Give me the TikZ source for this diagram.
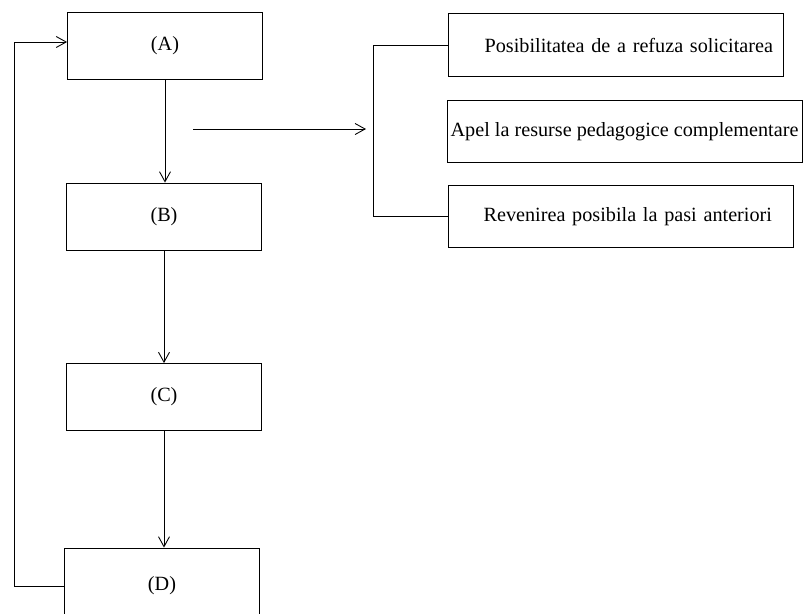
\documentclass[tikz,border=0pt]{standalone}
\usepackage{fontspec}
\setmainfont{Liberation Serif}
\usetikzlibrary{arrows, arrows.meta, positioning, calc}

\tikzset{
    box/.style={draw, line width=0.5pt, minimum width=3.9cm, minimum height=1.34cm, inner sep=0pt},
    optbox/.style={draw, line width=0.5pt, minimum height=1.25cm, inner ysep=0pt},
    line/.style={line width=0.5pt},
    flow/.style={line width=0.5pt, -{Straight Barb[length=2mm, width=2.2mm]}}
}

\begin{document}
\begin{tikzpicture}[x=0.02cm, y=-0.02cm, font=\fontsize{11.5}{13}\selectfont]
    % Frame of the picture
    \useasboundingbox (0,0) rectangle (810,613);
    \clip (0,0) rectangle (810,613);

    % Main steps
    \node[box] (A) at (165,46) {(A)};
    \node[box] (B) at (164,216.5) {(B)};
    \node[box] (C) at (164,397) {(C)};
    \node[box, minimum height=1.52cm] (D) at (162,586) {(D)};

    % Options on the right
    \node[optbox, inner xsep=0.2cm, text width=6.3cm, align=right] (opt1) at (615.5,45) {Posibilitatea de a refuza solicitarea};
    \node[optbox, inner xsep=0pt, minimum width=7.1cm] (opt2) at (624.5,131.5) {Apel la resurse pedagogice complementare};
    \node[optbox, inner xsep=0.42cm, text width=6.06cm, align=right] (opt3) at (620.5,216.5) {Revenirea posibila la pasi anteriori};

    % Flow between steps
    \draw[flow] (A.south) -- (A.south |- B.north);
    \draw[flow] (B.south) -- (B.south |- C.north);
    \draw[flow] (C.south) -- (C.south |- D.north);

    % Return from (D) to (A)
    \draw[flow] (D.west) -- ++(-50,0) |- ([yshift=0.08cm]A.west);

    % Arrow towards the options
    \coordinate (src) at (193,129);
    \coordinate (dst) at (366,129);
    \draw[flow] (src) -- (dst);

    % Bracket joining the options
    \draw[line] (opt1.west) -- ++(-74,0) |- (opt3.west);
\end{tikzpicture}
\end{document}
